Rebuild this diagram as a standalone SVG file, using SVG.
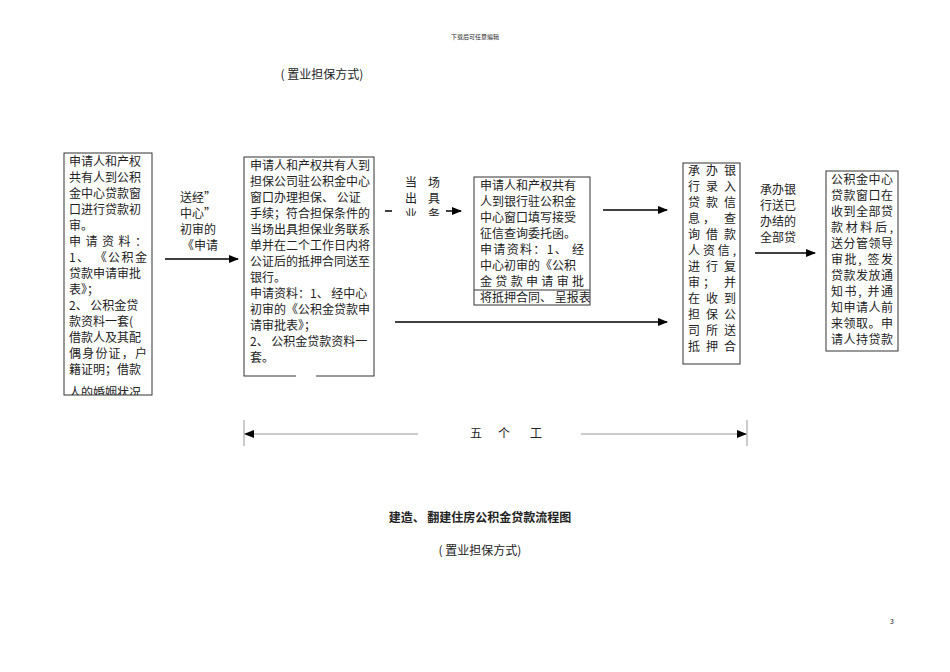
<svg xmlns="http://www.w3.org/2000/svg" width="950" height="672" viewBox="0 0 950 672">
<style>
text{font-family:"Noto Sans CJK SC","Liberation Sans",sans-serif;font-size:12px;fill:#222}
.box{fill:#fff;stroke:#333;stroke-width:1}
.ln{stroke:#000;stroke-width:1.5;fill:none}
.dim{stroke:#999;stroke-width:1;fill:none}
</style>
<defs>
<marker id="ah" markerWidth="10" markerHeight="8" refX="9" refY="4" orient="auto" markerUnits="userSpaceOnUse"><path d="M0,0L10,4L0,8z" fill="#000"/></marker>
<marker id="as" markerWidth="10" markerHeight="8" refX="1" refY="4" orient="auto" markerUnits="userSpaceOnUse"><path d="M10,0L0,4L10,8z" fill="#000"/></marker>
<clipPath id="c1"><rect x="64" y="153" width="88" height="242"/></clipPath>
<clipPath id="c3"><rect x="474" y="177" width="116" height="128"/></clipPath>
<clipPath id="cl"><rect x="380" y="170" width="80" height="46"/></clipPath>
</defs>
<text x="475" y="39" font-size="6" text-anchor="middle" style="font-size:6px">下载后可任意编辑</text>
<text x="322" y="79" text-anchor="middle">( 置业担保方式)</text>

<g id="n1">
<rect class="box" x="64" y="153" width="88" height="242"/>
<g clip-path="url(#c1)">
<text x="69" y="166">申请人和产权</text>
<text x="69" y="182">共有人到公积</text>
<text x="69" y="198">金中心贷款窗</text>
<text x="69" y="214">口进行贷款初</text>
<text x="69" y="230">审。</text>
<text x="69" y="246" textLength="78">申请资料：</text>
<text x="69" y="262" textLength="78">1、 《公积金</text>
<text x="69" y="278">贷款申请审批</text>
<text x="69" y="294">表》；</text>
<text x="69" y="310">2、 公积金贷</text>
<text x="69" y="326">款资料一套(</text>
<text x="69" y="342">借款人及其配</text>
<text x="69" y="358" textLength="78">偶身份证，户</text>
<text x="69" y="374">籍证明；借款</text>
<text x="69" y="397">人的婚姻状况</text>
</g>
</g>

<g id="n2">
<rect class="box" x="244" y="157" width="130" height="219"/>
<text x="250" y="170">申请人和产权共有人到</text>
<text x="250" y="186">担保公司驻公积金中心</text>
<text x="250" y="202">窗口办理担保、 公证</text>
<text x="250" y="218">手续；符合担保条件的</text>
<text x="250" y="234">当场出具担保业务联系</text>
<text x="250" y="250">单并在二个工作日内将</text>
<text x="250" y="266">公证后的抵押合同送至</text>
<text x="250" y="282">银行。</text>
<text x="250" y="298">申请资料：1、 经中心</text>
<text x="250" y="314">初审的《公积金贷款申</text>
<text x="250" y="330">请审批表》；</text>
<text x="250" y="346">2、 公积金贷款资料一</text>
<text x="250" y="362">套。</text>
<rect x="296" y="372" width="20" height="6" fill="#fff"/>
</g>

<g id="n3">
<rect class="box" x="474" y="177" width="116" height="128"/>
<g clip-path="url(#c3)">
<text x="480" y="190">申请人和产权共有</text>
<text x="480" y="206">人到银行驻公积金</text>
<text x="480" y="222">中心窗口填写接受</text>
<text x="480" y="238">征信查询委托函。</text>
<text x="480" y="254" textLength="104">申请资料：1、 经</text>
<text x="480" y="270">中心初审的《公积</text>
<text x="480" y="286" textLength="104">金贷款申请审批</text>
<text x="480" y="302">将抵押合同、 呈报表</text>
</g>
<line x1="474" y1="290" x2="590" y2="290" stroke="#333"/>
</g>

<g id="n4">
<rect class="box" x="683" y="163" width="57" height="201"/>
<g>
<text x="688" y="175" textLength="48">承办银</text>
<text x="688" y="191" textLength="48">行录入</text>
<text x="688" y="207" textLength="48">贷款信</text>
<text x="688" y="223" textLength="48">息， 查</text>
<text x="688" y="239" textLength="48">询借款</text>
<text x="688" y="255" textLength="48">人资信,</text>
<text x="688" y="271" textLength="48">进行复</text>
<text x="688" y="287" textLength="48">审； 并</text>
<text x="688" y="303" textLength="48">在收到</text>
<text x="688" y="319" textLength="48">担保公</text>
<text x="688" y="335" textLength="48">司所送</text>
<text x="688" y="351" textLength="48">抵押合</text>
</g>
</g>

<g id="n5">
<rect class="box" x="826" y="171" width="72" height="180"/>
<text x="831" y="184" textLength="62">公积金中心</text>
<text x="831" y="200" textLength="62">贷款窗口在</text>
<text x="831" y="216" textLength="62">收到全部贷</text>
<text x="831" y="232" textLength="62">款材料后,</text>
<text x="831" y="248" textLength="62">送分管领导</text>
<text x="831" y="264" textLength="62">审批, 签发</text>
<text x="831" y="280" textLength="62">贷款发放通</text>
<text x="831" y="296" textLength="62">知书, 并通</text>
<text x="831" y="312" textLength="62">知申请人前</text>
<text x="831" y="328" textLength="62">来领取。申</text>
<text x="831" y="344" textLength="62">请人持贷款</text>
</g>

<g id="connectors">
<line class="ln" x1="165" y1="259" x2="238" y2="259" marker-end="url(#ah)"/>
<line class="ln" x1="385" y1="211" x2="392" y2="211"/>
<line class="ln" x1="446" y1="211" x2="461" y2="211" marker-end="url(#ah)"/>
<line class="ln" x1="603" y1="210" x2="667" y2="210" marker-end="url(#ah)"/>
<line class="ln" x1="395" y1="322" x2="667" y2="322" marker-end="url(#ah)"/>
<line class="ln" x1="755" y1="253" x2="815" y2="253" marker-end="url(#ah)"/>
<line class="dim" x1="244" y1="420" x2="244" y2="446"/>
<line class="dim" x1="747" y1="420" x2="747" y2="446"/>
<line class="dim" x1="245" y1="434" x2="418" y2="434" marker-start="url(#as)"/>
<line class="dim" x1="581" y1="434" x2="746" y2="434" marker-end="url(#ah)"/>
</g>

<g id="labels">
<text x="180" y="202">送经”</text>
<text x="180" y="218">中心”</text>
<text x="180" y="234">初审的</text>
<text x="182" y="250">《申请</text>
<g clip-path="url(#cl)">
<text x="405" y="187">当</text><text x="428" y="187">场</text>
<text x="405" y="203">出</text><text x="428" y="203">具</text>
<text x="405" y="219">业</text><text x="428" y="219">务</text>
</g>
<text x="760" y="194">承办银</text>
<text x="760" y="210">行送已</text>
<text x="760" y="226">办结的</text>
<text x="760" y="242">全部贷</text>
<text x="470" y="438">五</text><text x="498" y="438">个</text><text x="530" y="438">工</text>
<text x="480" y="522" text-anchor="middle" font-weight="bold">建造、 翻建住房公积金贷款流程图</text>
<text x="480" y="555" text-anchor="middle">( 置业担保方式)</text>
<text x="890" y="624" style="font-size:7px">3</text>
</g>
</svg>
